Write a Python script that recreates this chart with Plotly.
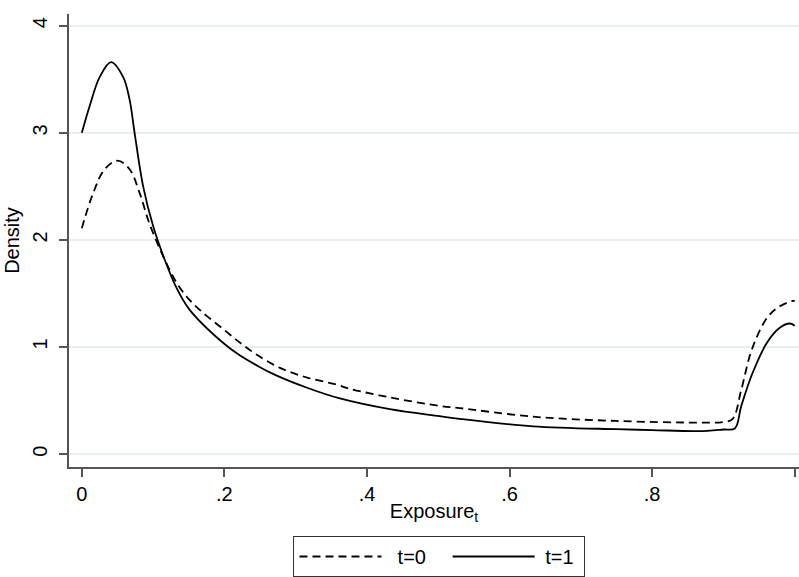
import plotly.graph_objects as go

# Kernel density of exposure, by period
x_t0 = [0.000, 0.016, 0.032, 0.050, 0.067, 0.081, 0.095, 0.116, 0.133, 0.151,
        0.170, 0.198, 0.222, 0.245, 0.278, 0.316, 0.357, 0.376, 0.432, 0.502,
        0.530, 0.633, 0.750, 0.864, 0.900, 0.913, 0.925, 0.940, 0.962, 0.979,
        0.996, 1.000]
y_t0 = [2.11, 2.44, 2.66, 2.74, 2.66, 2.44, 2.15, 1.82, 1.60, 1.44,
        1.32, 1.17, 1.04, 0.93, 0.805, 0.715, 0.65, 0.61, 0.53, 0.45,
        0.43, 0.35, 0.31, 0.295, 0.30, 0.33, 0.60, 0.98, 1.28, 1.38,
        1.43, 1.43]

x_t1 = [0.000, 0.011, 0.025, 0.041, 0.058, 0.067, 0.074, 0.086, 0.100, 0.116,
        0.133, 0.151, 0.198, 0.222, 0.245, 0.268, 0.316, 0.362, 0.432, 0.502,
        0.530, 0.633, 0.750, 0.800, 0.864, 0.900, 0.916, 0.925, 0.941, 0.961,
        0.979, 0.993, 1.000]
y_t1 = [3.00, 3.25, 3.52, 3.66, 3.52, 3.31, 3.00, 2.50, 2.13, 1.82,
        1.55, 1.35, 1.04, 0.92, 0.83, 0.75, 0.62, 0.52, 0.42, 0.355,
        0.33, 0.26, 0.233, 0.225, 0.215, 0.23, 0.24, 0.45, 0.76, 1.04,
        1.18, 1.22, 1.20]

x_ticks = [0, 0.2, 0.4, 0.6, 0.8, 1]
x_tick_text = ["0", ".2", ".4", ".6", ".8", "1"]
y_ticks = [0, 1, 2, 3, 4]

FONT = "Liberation Sans, Arial, sans-serif"
AXIS = "#555555"
GRID = "#e8eff0"
NB = "\u00a0"

fig = go.Figure()
fig.add_trace(go.Scatter(x=x_t0, y=y_t0, mode="lines", name=NB * 2 + "t=0" + NB * 3,
                         line=dict(color="black", width=1.8, dash="8px,5px",
                                   shape="spline", smoothing=1.0)))
fig.add_trace(go.Scatter(x=x_t1, y=y_t1, mode="lines", name=NB + "t=1" + NB,
                         line=dict(color="black", width=1.8,
                                   shape="spline", smoothing=1.0)))

fig.update_layout(
    width=799, height=577,
    margin=dict(l=69, r=0, t=14, b=109),
    paper_bgcolor="white", plot_bgcolor="white",
    font=dict(family=FONT, size=20, color="black"),
    showlegend=True,
    legend=dict(orientation="h", x=0.5075, xanchor="center", y=-0.152, yanchor="top",
                bordercolor="#333333", borderwidth=1, itemwidth=82,
                font=dict(size=20), itemclick=False),
    xaxis=dict(range=[-0.018, 1.006], tickvals=x_ticks, ticktext=x_tick_text,
               showgrid=False, zeroline=False, showline=True, linecolor=AXIS, linewidth=1.5,
               ticks="outside", ticklen=8, tickwidth=1.5, tickcolor=AXIS,
               tickfont=dict(size=20),
               title=dict(text="Exposure<sub>t</sub>", standoff=0, font=dict(size=20))),
    yaxis=dict(range=[-0.12, 4.11], tickvals=y_ticks, tickangle=-90,
               showgrid=True, gridcolor=GRID, gridwidth=1.5,
               zeroline=False, showline=True, linecolor=AXIS, linewidth=1.5,
               ticks="outside", ticklen=8, tickwidth=1.5, tickcolor=AXIS,
               tickfont=dict(size=20), ticklabelstandoff=4,
               title=dict(text="Density", standoff=4, font=dict(size=20))),
)

fig.write_html("out.html")
